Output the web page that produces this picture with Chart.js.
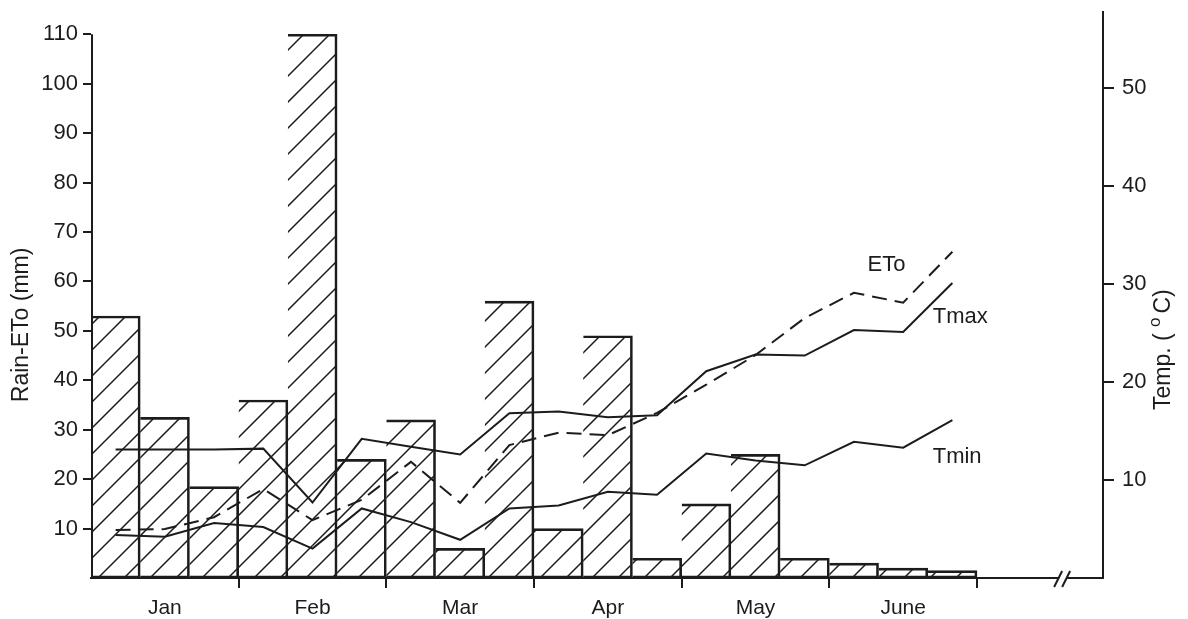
<!DOCTYPE html>
<html>
<head>
<meta charset="utf-8">
<script src="https://cdn.jsdelivr.net/npm/chart.js@4/dist/chart.umd.min.js"></script>
<style>
  html, body { margin: 0; padding: 0; background: #ffffff; }
  #wrap { width: 1188px; height: 619px; }
</style>
</head>
<body>
<div id="wrap"><canvas id="c" width="1188" height="619"></canvas></div>
<script>
// Ten-day (dekad) periods, three per month, January to June
const months = ['Jan', 'Feb', 'Mar', 'Apr', 'May', 'June'];
const rain = [53, 32.5, 18.5, 36, 110, 24, 32, 6, 56, 10, 49, 4, 15, 25, 4, 3, 2, 1.5];   // mm
const eto  = [9.7, 9.9, 12.3, 18.0, 11.7, 15.8, 23.5, 15.2, 26.9, 29.4, 28.9, 33.4, 39.1, 45.1, 52.6, 57.7, 55.7, 66.0]; // mm
const tmax = [13.1, 13.1, 13.1, 13.2, 7.7, 14.2, 13.4, 12.6, 16.8, 17.0, 16.4, 16.6, 21.1, 22.8, 22.7, 25.3, 25.1, 30.1]; // °C
const tmin = [4.4, 4.2, 5.6, 5.2, 3.0, 7.1, 5.7, 3.9, 7.1, 7.4, 8.8, 8.5, 12.7, 12.0, 11.5, 13.9, 13.3, 16.1];          // °C
const rainTicks = [10, 20, 30, 40, 50, 60, 70, 80, 90, 100, 110];
const tempTicks = [10, 20, 30, 40, 50];

const ink = '#1c1c1c';
const FONT = '"Liberation Sans", Arial, Helvetica, sans-serif';
Chart.defaults.font.family = FONT;
Chart.defaults.color = ink;

// horizontal extent of the time axis, in dekads (axis runs on past the last period to a break mark)
const X_MAX = 20.56;
const asPoints = arr => arr.map((v, i) => ({ x: i + 0.5, y: v }));

const canvas = document.getElementById('c');
const ctx0 = canvas.getContext('2d');

// diagonal "/" hatching used for the rainfall bars (large tile so seams are rare)
function hatchPattern() {
  const gap = 26, n = 4, s = gap * n;
  const c = document.createElement('canvas');
  c.width = s; c.height = s;
  const g = c.getContext('2d');
  g.strokeStyle = ink;
  g.lineWidth = 1.5;
  g.beginPath();
  for (let k = -1; k <= 2 * n + 1; k++) {
    const cst = k * gap;             // line x + y = cst
    g.moveTo(cst + 20, -20);
    g.lineTo(cst - s - 20, s + 20);
  }
  g.stroke();
  return ctx0.createPattern(c, 'repeat');
}

// line names written beside the curves, in data coordinates
const seriesNotes = [
  { text: 'ETo',  x: 16.16, y: 63.3, scale: 'y',  align: 'center' },
  { text: 'Tmax', x: 17.1,  y: 26.6, scale: 'yT', align: 'left' },
  { text: 'Tmin', x: 17.1,  y: 12.4, scale: 'yT', align: 'left' }
];

const noEdgePadding = s => { s.paddingTop = 0; s.paddingBottom = 0; s.paddingLeft = 0; s.paddingRight = 0; };

const decorations = {
  id: 'decorations',
  afterDatasetsDraw(chart) {
    const { ctx, chartArea } = chart;
    const sx = chart.scales.x, sy = chart.scales.y, sT = chart.scales.yT;
    ctx.save();
    ctx.strokeStyle = ink;
    ctx.fillStyle = ink;
    ctx.lineWidth = 2;

    // left axis line, from 0 up to the top tick only
    ctx.beginPath();
    ctx.moveTo(chartArea.left + 1, sy.getPixelForValue(0) + 1);
    ctx.lineTo(chartArea.left + 1, sy.getPixelForValue(110));
    ctx.stroke();

    // break mark on the time axis
    const bx = sx.getPixelForValue(19.75);
    const by = chartArea.bottom + 1;
    ctx.fillStyle = '#ffffff';
    ctx.fillRect(bx - 4, by - 2, 8, 4);
    ctx.beginPath();
    ctx.moveTo(bx - 9, by + 8); ctx.lineTo(bx - 1, by - 8);
    ctx.moveTo(bx - 1, by + 8); ctx.lineTo(bx + 7, by - 8);
    ctx.stroke();

    // curve names
    ctx.fillStyle = ink;
    ctx.font = '22px ' + FONT;
    ctx.textBaseline = 'middle';
    seriesNotes.forEach(n => {
      ctx.textAlign = n.align;
      ctx.fillText(n.text, sx.getPixelForValue(n.x), chart.scales[n.scale].getPixelForValue(n.y));
    });

    // axis titles
    ctx.font = '23px ' + FONT;
    ctx.textAlign = 'center';
    ctx.save();
    ctx.translate(sy.left + 22, sy.getPixelForValue(51.2));
    ctx.rotate(-Math.PI / 2);
    ctx.fillText('Rain-ETo (mm)', 0, 0);
    ctx.restore();

    ctx.save();
    ctx.translate(sT.right - 24, sT.getPixelForValue(23.3));
    ctx.rotate(-Math.PI / 2);
    const a = 'Temp. ( ', b = 'C)';
    ctx.font = '23px ' + FONT;
    const wa = ctx.measureText(a).width, wb = ctx.measureText(b).width;
    ctx.font = '17px ' + FONT;
    const wo = ctx.measureText('o').width + 4;
    const total = wa + wo + wb;
    let x = -total / 2;
    ctx.textAlign = 'left';
    ctx.font = '23px ' + FONT;
    ctx.fillText(a, x, 0); x += wa;
    ctx.font = '17px ' + FONT;
    ctx.fillText('o', x, -9); x += wo;
    ctx.font = '23px ' + FONT;
    ctx.fillText(b, x, 0);
    ctx.restore();

    ctx.restore();
  }
};

new Chart(canvas, {
  type: 'bar',
  data: {
    datasets: [
      {
        type: 'line', label: 'ETo', data: asPoints(eto), yAxisID: 'y', xAxisID: 'x',
        borderColor: ink, borderWidth: 2, borderDash: [15, 8], pointRadius: 0, tension: 0, order: 1
      },
      {
        type: 'line', label: 'Tmax', data: asPoints(tmax), yAxisID: 'yT', xAxisID: 'x',
        borderColor: ink, borderWidth: 2, pointRadius: 0, tension: 0, order: 1
      },
      {
        type: 'line', label: 'Tmin', data: asPoints(tmin), yAxisID: 'yT', xAxisID: 'x',
        borderColor: ink, borderWidth: 2, pointRadius: 0, tension: 0, order: 1
      },
      {
        type: 'bar', label: 'Rain', data: asPoints(rain), yAxisID: 'y', xAxisID: 'x',
        backgroundColor: hatchPattern(), borderColor: ink, borderWidth: 2,
        borderSkipped: 'left', barPercentage: 1, categoryPercentage: 1, order: 2
      }
    ]
  },
  options: {
    responsive: false,
    animation: false,
    devicePixelRatio: 1,
    layout: { padding: { top: 12, left: 0, right: 0, bottom: 0 } },
    plugins: { legend: { display: false }, tooltip: { enabled: false } },
    scales: {
      x: {
        type: 'linear', position: 'bottom', min: 0, max: X_MAX, offset: false,
        afterBuildTicks: s => { s.ticks = [3, 6, 9, 12, 15, 18].map(v => ({ value: v })); },
        grid: { offset: false, drawOnChartArea: false, drawTicks: true, tickLength: 10, color: ink, lineWidth: 2 },
        border: { display: true, color: ink, width: 2 },
        ticks: { display: false },
        afterFit: s => { noEdgePadding(s); s.height = 10; }
      },
      xm: {
        type: 'linear', position: 'bottom', min: 0, max: X_MAX, offset: false,
        afterBuildTicks: s => { s.ticks = months.map((m, i) => ({ value: i * 3 + 1.5 })); },
        grid: { display: false, drawTicks: false, tickLength: 0 },
        border: { display: false },
        ticks: { autoSkip: false, maxRotation: 0, padding: 8, color: ink, font: { size: 21 },
                 callback: (v, i) => months[i] },
        afterFit: s => { noEdgePadding(s); s.height = 31; }
      },
      y: {
        type: 'linear', position: 'left', min: 0, max: 114.5,
        afterBuildTicks: s => { s.ticks = rainTicks.map(v => ({ value: v })); },
        grid: { drawOnChartArea: false, drawTicks: true, tickLength: 8, color: ink, lineWidth: 2 },
        border: { display: false },
        ticks: { color: ink, font: { size: 22 }, padding: 5 },
        afterFit: s => { noEdgePadding(s); s.width = 91; }
      },
      yT: {
        type: 'linear', position: 'right', min: 0, max: 57.75,
        afterBuildTicks: s => { s.ticks = tempTicks.map(v => ({ value: v })); },
        grid: { drawOnChartArea: false, drawTicks: true, tickLength: 11, color: ink, lineWidth: 2 },
        border: { display: true, color: ink, width: 2 },
        ticks: { color: ink, font: { size: 22 }, padding: 8 },
        afterFit: s => { noEdgePadding(s); s.width = 85; }
      }
    }
  },
  plugins: [decorations]
});
</script>
</body>
</html>
